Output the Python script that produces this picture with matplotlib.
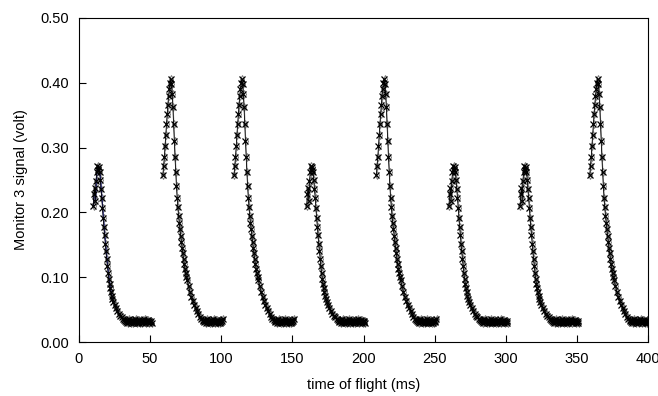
import numpy as np
import matplotlib
matplotlib.use('Agg')
import matplotlib.pyplot as plt

plt.rcParams['font.family'] = ['Liberation Sans', 'DejaVu Sans']

# pulse start times (ms)
low_starts = [10, 160, 260, 310]
high_starts = [60, 110, 210, 360]

# low pulse shape (time after start, volt)
low_dt = [0, 0.5, 1, 1.5, 2, 2.5, 3, 3.5, 4, 4.5, 5, 5.5, 6, 6.5, 7, 7.5,
          8, 8.5, 9, 9.5, 10, 10.5, 11, 11.5, 12, 12.5, 13, 13.5, 14, 15,
          16, 17, 18, 19, 20, 21, 22]
low_v = [0.210, 0.228, 0.238, 0.218, 0.248, 0.262, 0.271, 0.266, 0.270, 0.262,
         0.250, 0.236, 0.222, 0.207, 0.192, 0.178, 0.165, 0.152, 0.140, 0.128,
         0.117, 0.107, 0.098, 0.090, 0.083, 0.077, 0.071, 0.066, 0.062, 0.057,
         0.053, 0.048, 0.044, 0.041, 0.038, 0.036, 0.034]

# high pulse shape (time after start, volt)
high_dt = [-1, -0.5, 0, 0.5, 1, 1.5, 2, 2.5, 3, 3.5, 4, 4.5, 5, 5.5, 6, 6.5,
           7, 7.5, 8, 8.5, 9, 9.5, 10, 10.5, 11, 11.5, 12, 12.5, 13, 13.5, 14,
           14.5, 15, 15.5, 16, 17, 18, 19, 20, 21, 22, 23, 24, 25, 26, 27]
high_v = [0.258, 0.272, 0.286, 0.302, 0.320, 0.336, 0.352, 0.366, 0.380, 0.390,
          0.400, 0.405, 0.398, 0.382, 0.362, 0.336, 0.310, 0.285, 0.262, 0.240,
          0.222, 0.208, 0.195, 0.184, 0.174, 0.164, 0.155, 0.145, 0.137, 0.128,
          0.120, 0.113, 0.107, 0.101, 0.096, 0.087, 0.078, 0.070, 0.064, 0.058,
          0.053, 0.048, 0.043, 0.039, 0.036, 0.034]

# flat tail after the decay (volt), 0.5 ms apart
tail_v = [0.033, 0.031, 0.034, 0.030, 0.032, 0.035, 0.031, 0.033, 0.029, 0.032,
          0.034, 0.030, 0.033, 0.031, 0.035, 0.032, 0.030, 0.033, 0.031, 0.034,
          0.029, 0.032, 0.033, 0.030, 0.034, 0.031, 0.032, 0.035, 0.030, 0.033,
          0.031, 0.032, 0.034, 0.030, 0.033, 0.031, 0.032, 0.030]

xticks = [0, 50, 100, 150, 200, 250, 300, 350, 400]
yticks = [0.0, 0.1, 0.2, 0.3, 0.4, 0.5]


def pulse(t0, dt, v, ntail):
    t = [t0 + d for d in dt]
    last = dt[-1]
    t += [t0 + last + 0.5 * (i + 1) for i in range(ntail)]
    return np.array(t), np.array(list(v) + tail_v[:ntail])


fig = plt.figure(figsize=(6.58, 3.96), dpi=100)
ax = fig.add_axes([0.120, 0.136, 0.865, 0.819])

pulses = [pulse(s, low_dt, low_v, 38) for s in low_starts]
pulses += [pulse(s, high_dt, high_v, 28) for s in high_starts]

for t, v in pulses:
    ax.plot(t + 0.3, v, color='#888888', lw=0.6, marker='d', ms=4,
            mfc='none', mec='#777777', mew=0.7)

# blue trace on first pulse
t, v = pulses[0]
ax.plot(t + 0.2, v, color='#2020a0', lw=0.7)

for t, v in pulses:
    ax.plot(t, v, color='black', lw=0.6, marker='x', ms=5, mew=0.9)

ax.set_xlim(0, 400)
ax.set_ylim(0, 0.5)
ax.set_xticks(xticks)
ax.set_yticks(yticks)
ax.set_yticklabels(['%.2f' % y for y in yticks])
ax.tick_params(direction='in', length=5, width=0.8, labelsize=10.5, pad=7)
for s in ax.spines.values():
    s.set_linewidth(0.8)
ax.set_xlabel('time of flight (ms)', fontsize=10.5, labelpad=9)
ax.set_ylabel('Monitor 3 signal (volt)', fontsize=10.5, labelpad=9)

fig.savefig('out.png', dpi=100)
